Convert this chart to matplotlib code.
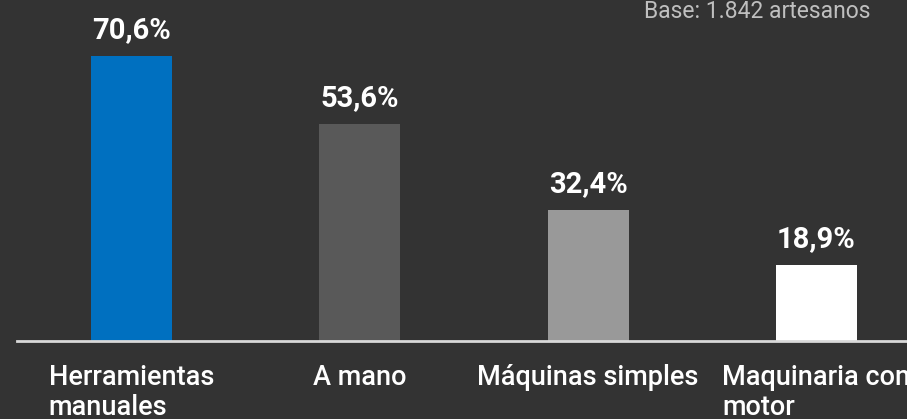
import matplotlib
matplotlib.use("Agg")
import matplotlib.pyplot as plt
from matplotlib.transforms import offset_copy

categories = ["Herramientas\nmanuales", "A mano", "Máquinas simples", "Maquinaria con\nmotor"]
values = [70.6, 53.6, 32.4, 18.9]
value_labels = ["70,6%", "53,6%", "32,4%", "18,9%"]
colors = ["#0070C0", "#595959", "#999999", "#FFFFFF"]
note = "Base: 1.842 artesanos"

BG = "#333333"
FONT = "Roboto"

fig = plt.figure(figsize=(9.07, 4.19), dpi=100, facecolor=BG)
W, H = 907, 419
base_px = 341
ax = fig.add_axes([17.35 / W, (H - base_px) / H, 1 - 17.35 / W, base_px / H])
ax.set_facecolor(BG)
ax.patch.set_alpha(0)

x = list(range(len(values)))
ax.bar(x, values, width=0.355, color=colors, zorder=2)
ax.set_xlim(-0.5, (W - 17.35) / 228.3 - 0.5)
ax.set_ylim(0, base_px / 4.04)

for s in ["top", "right", "left"]:
    ax.spines[s].set_visible(False)
ax.spines["bottom"].set_color("#d9d9d9")
ax.spines["bottom"].set_linewidth(2)
ax.spines["bottom"].set_zorder(3)
ax.set_xticks([])
ax.set_yticks([])

val_tr = offset_copy(ax.transData, fig=fig, x=0, y=18, units="dots")
for xi, v, lab in zip(x, values, value_labels):
    ax.text(xi, v, lab, transform=val_tr, ha="center", va="baseline",
            color="white", fontsize=21, fontfamily=FONT, fontweight="bold")

cat_tr = offset_copy(ax.transData, fig=fig, x=0, y=-23, units="dots")
for xi, c in zip(x, categories):
    ax.text(xi, 0, c, transform=cat_tr, ha="center", va="top",
            multialignment="left", color="white", fontsize=19.5,
            fontfamily=FONT, fontweight="medium", linespacing=1.15, clip_on=False)

fig.text(870 / W, (H - 18) / H, note, ha="right", va="baseline",
         color="#bfbfbf", fontsize=16.5, fontfamily=FONT)

fig.savefig("out.png", dpi=100, facecolor=BG)
